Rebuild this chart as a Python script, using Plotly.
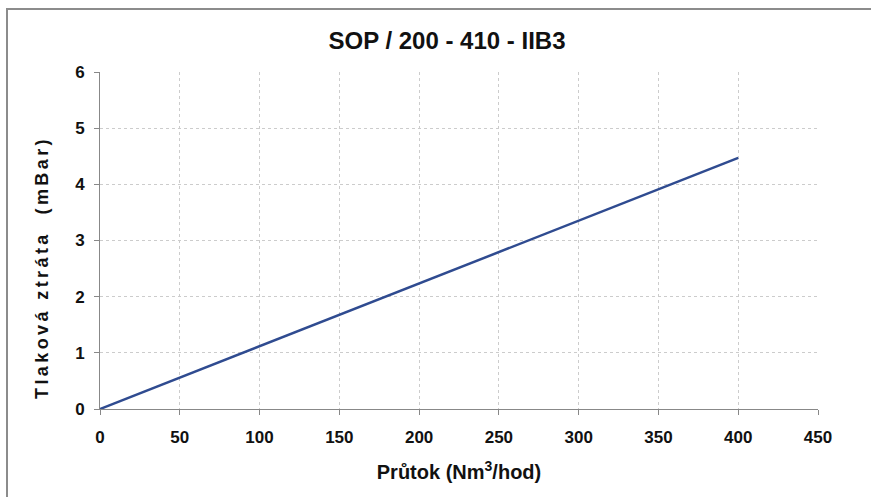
import plotly.graph_objects as go

flow = [0, 50, 100, 150, 200, 250, 300, 350, 400]
loss = [0.0, 0.56, 1.12, 1.68, 2.24, 2.80, 3.36, 3.91, 4.47]
x_ticks = [0, 50, 100, 150, 200, 250, 300, 350, 400, 450]
y_ticks = [0, 1, 2, 3, 4, 5, 6]

W, H = 871, 497
L, R, T, B = 100, 53, 72, 88
pw, ph = W - L - R, H - T - B

def px_x(p):
    return (p - L) / pw

def px_y(p):
    return (H - B - p) / ph

fig = go.Figure()
fig.add_trace(go.Scatter(x=flow, y=loss, mode="lines",
                         line=dict(color="#2F4B90", width=2.5),
                         showlegend=False, hoverinfo="x+y"))

font_fam = "Liberation Sans, Arial, sans-serif"
fig.update_layout(
    width=W, height=H,
    margin=dict(l=L, r=R, t=T, b=B),
    paper_bgcolor="white", plot_bgcolor="white",
    title=dict(text="<b>SOP / 200 - 410 - IIB3</b>", xref="container", x=447 / W,
               xanchor="center", y=1 - 41 / H, yanchor="middle",
               font=dict(family=font_fam, size=24, color="#111111")),
    xaxis=dict(range=[0, 450], tickvals=x_ticks, ticks="outside", ticklen=5,
               tickcolor="#888888", showline=True, linecolor="#888888", linewidth=1,
               showgrid=True, gridcolor="#CCCCCC", griddash="dot", gridwidth=1,
               zeroline=False, ticklabelstandoff=8,
               tickfont=dict(family=font_fam, size=17, color="#111111", weight="bold"),
               title=dict(text="<b>Průtok (Nm<sup>3</sup>/hod)</b>", standoff=18,
                          font=dict(family=font_fam, size=20, color="#111111"))),
    yaxis=dict(range=[0, 6], tickvals=y_ticks, ticks="outside", ticklen=5,
               tickcolor="#888888", showline=True, linecolor="#888888", linewidth=1,
               showgrid=True, gridcolor="#CCCCCC", griddash="dot", gridwidth=1,
               zeroline=False, ticklabelstandoff=6,
               tickfont=dict(family=font_fam, size=17, color="#111111", weight="bold"),
               title=dict(text="<b>Tlaková ztráta  (mBar)</b>", standoff=21,
                          font=dict(family=font_fam, size=18, color="#111111"))),
)

fig.add_shape(type="rect", xref="paper", yref="paper",
              x0=px_x(7), x1=px_x(880), y0=px_y(510), y1=px_y(9),
              line=dict(color="#8C8C8C", width=2), fillcolor="rgba(0,0,0,0)",
              layer="below")

post = """
document.body.style.margin='0';
document.body.style.padding='0';
var t=document.querySelectorAll('.ytitle');
for (var i=0;i<t.length;i++){
  t[i].style.letterSpacing='3.4px';
  var tr=t[i].getAttribute('transform')||'';
  t[i].setAttribute('transform', tr+' translate(-27,0)');
}
"""
fig.write_html("out.html", post_script=post, config={"displayModeBar": False})
